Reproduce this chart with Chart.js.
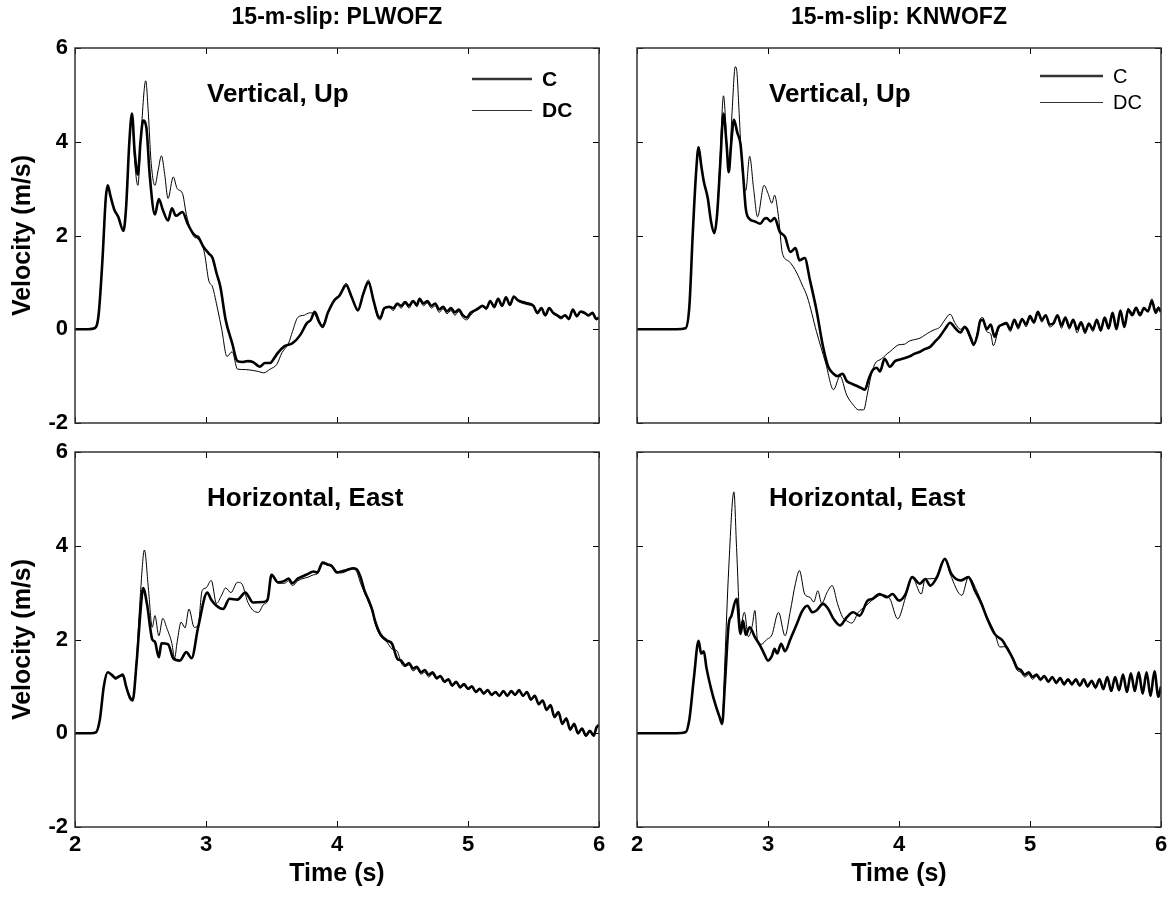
<!DOCTYPE html>
<html><head><meta charset="utf-8">
<script src="https://cdn.jsdelivr.net/npm/chart.js@4.4.1/dist/chart.umd.min.js"></script>
<style>
html,body{margin:0;padding:0;background:#fff;width:1175px;height:901px;overflow:hidden}
canvas{position:absolute}
</style></head><body>
<canvas id="c1" width="618" height="445" style="left:0;top:0"></canvas>
<canvas id="c2" width="557" height="445" style="left:618px;top:0"></canvas>
<canvas id="c3" width="618" height="471" style="left:0;top:430px"></canvas>
<canvas id="c4" width="557" height="471" style="left:618px;top:430px"></canvas>
<script>
// ---- tick labels / texts ----
const timeTicks = [2, 3, 4, 5, 6];
const velocityTicks = [-2, 0, 2, 4, 6];
const panelTitles = ['15-m-slip: PLWOFZ', '15-m-slip: KNWOFZ'];
const componentLabels = ['Vertical, Up', 'Horizontal, East'];
const seriesNames = ['C', 'DC'];

// ---- series: [time (s), velocity (m/s)] ----
const plwVertC = [[2.00,0],[2.10,0],[2.15,0.02],[2.18,0.3],[2.21,1.5],[2.235,2.8],[2.25,3.07],[2.27,2.85],[2.30,2.55],[2.33,2.4],[2.37,2.1],[2.39,2.6],[2.415,4.0],[2.435,4.6],[2.455,3.8],[2.48,3.3],[2.50,4.0],[2.52,4.45],[2.545,4.3],[2.57,3.3],[2.61,2.45],[2.64,2.78],[2.67,2.55],[2.71,2.32],[2.74,2.58],[2.77,2.42],[2.82,2.5],[2.86,2.25],[2.90,2.05],[2.95,1.92],[2.98,1.76],[3.02,1.62],[3.05,1.52],[3.08,1.2],[3.11,0.9],[3.15,0.2],[3.20,-0.3],[3.24,-0.68],[3.28,-0.7],[3.32,-0.68],[3.36,-0.7],[3.41,-0.8],[3.45,-0.72],[3.49,-0.72],[3.51,-0.66],[3.55,-0.5],[3.60,-0.36],[3.66,-0.3],[3.72,-0.12],[3.77,0.13],[3.80,0.2],[3.83,0.37],[3.865,0.15],[3.89,0.05],[3.93,0.35],[3.98,0.62],[4.02,0.72],[4.07,0.94],[4.11,0.7],[4.16,0.41],[4.20,0.75],[4.24,1.0],[4.28,0.6],[4.31,0.3],[4.33,0.24],[4.36,0.45],[4.40,0.48],[4.43,0.45],[4.46,0.55],[4.49,0.5],[4.52,0.58],[4.55,0.5],[4.58,0.6],[4.61,0.52],[4.63,0.65],[4.66,0.55],[4.69,0.6],[4.72,0.5],[4.75,0.55],[4.78,0.42],[4.81,0.48],[4.84,0.38],[4.87,0.45],[4.90,0.36],[4.93,0.42],[4.96,0.3],[4.99,0.25],[5.02,0.35],[5.05,0.4],[5.08,0.45],[5.11,0.5],[5.14,0.45],[5.17,0.6],[5.20,0.48],[5.23,0.65],[5.26,0.5],[5.29,0.68],[5.32,0.52],[5.35,0.7],[5.38,0.62],[5.42,0.58],[5.46,0.55],[5.50,0.5],[5.53,0.35],[5.56,0.45],[5.59,0.3],[5.62,0.45],[5.65,0.35],[5.68,0.3],[5.71,0.25],[5.74,0.3],[5.77,0.22],[5.80,0.42],[5.83,0.28],[5.86,0.38],[5.89,0.35],[5.92,0.3],[5.95,0.35],[5.98,0.22],[6.0,0.25]];
const plwVertDC = [[2.00,0],[2.10,0],[2.15,0.02],[2.18,0.3],[2.21,1.5],[2.235,2.8],[2.25,3.05],[2.27,2.85],[2.30,2.55],[2.33,2.4],[2.37,2.1],[2.39,2.6],[2.415,4.0],[2.435,4.55],[2.455,3.6],[2.48,3.07],[2.505,4.2],[2.54,5.3],[2.56,4.6],[2.58,3.6],[2.61,3.07],[2.635,3.4],[2.66,3.7],[2.685,3.3],[2.71,2.79],[2.75,3.25],[2.78,3.0],[2.82,2.9],[2.85,2.45],[2.88,2.15],[2.92,1.95],[2.94,2.0],[2.965,1.85],[2.99,1.6],[3.02,1.05],[3.05,0.9],[3.09,0.41],[3.12,0.0],[3.16,-0.58],[3.20,-0.48],[3.24,-0.85],[3.30,-0.86],[3.36,-0.88],[3.40,-0.9],[3.44,-0.93],[3.49,-0.85],[3.54,-0.75],[3.58,-0.5],[3.63,-0.3],[3.66,-0.05],[3.70,0.25],[3.75,0.3],[3.79,0.35],[3.83,0.32],[3.865,0.12],[3.89,0.1],[3.93,0.35],[3.98,0.62],[4.02,0.75],[4.07,0.98],[4.11,0.72],[4.16,0.38],[4.20,0.78],[4.24,1.05],[4.28,0.6],[4.31,0.25],[4.33,0.2],[4.36,0.42],[4.40,0.46],[4.43,0.4],[4.46,0.52],[4.49,0.45],[4.52,0.55],[4.55,0.45],[4.58,0.58],[4.61,0.48],[4.63,0.62],[4.66,0.5],[4.69,0.56],[4.72,0.45],[4.75,0.5],[4.78,0.36],[4.81,0.44],[4.84,0.33],[4.87,0.4],[4.90,0.3],[4.93,0.38],[4.96,0.25],[4.99,0.2],[5.02,0.3],[5.05,0.38],[5.08,0.42],[5.11,0.48],[5.14,0.42],[5.17,0.58],[5.20,0.45],[5.23,0.62],[5.26,0.48],[5.29,0.66],[5.32,0.5],[5.35,0.68],[5.38,0.6],[5.42,0.55],[5.46,0.52],[5.50,0.48],[5.53,0.33],[5.56,0.43],[5.59,0.28],[5.62,0.42],[5.65,0.33],[5.68,0.28],[5.71,0.22],[5.74,0.28],[5.77,0.2],[5.80,0.4],[5.83,0.26],[5.86,0.36],[5.89,0.33],[5.92,0.28],[5.95,0.33],[5.98,0.2],[6.0,0.23]];

const knwVertC = [[2.00,0],[2.30,0],[2.37,0.02],[2.40,0.5],[2.425,2.0],[2.45,3.3],[2.47,3.88],[2.49,3.5],[2.51,3.15],[2.54,2.8],[2.565,2.3],[2.59,2.05],[2.61,2.4],[2.635,3.5],[2.66,4.6],[2.685,3.9],[2.70,3.35],[2.72,4.0],[2.74,4.47],[2.765,4.2],[2.79,3.95],[2.81,3.3],[2.83,2.58],[2.86,2.35],[2.90,2.3],[2.94,2.25],[2.97,2.35],[2.99,2.37],[3.02,2.3],[3.05,2.37],[3.09,2.08],[3.13,1.97],[3.17,1.65],[3.21,1.73],[3.24,1.47],[3.28,1.52],[3.32,1.05],[3.37,0.41],[3.42,-0.37],[3.46,-0.8],[3.50,-0.95],[3.53,-1.0],[3.57,-0.95],[3.60,-1.1],[3.63,-1.15],[3.67,-1.2],[3.71,-1.25],[3.74,-1.29],[3.77,-1.05],[3.80,-0.87],[3.83,-0.82],[3.855,-0.9],[3.89,-0.63],[3.93,-0.8],[3.97,-0.68],[4.00,-0.65],[4.04,-0.62],[4.08,-0.58],[4.12,-0.52],[4.16,-0.48],[4.20,-0.42],[4.24,-0.37],[4.28,-0.25],[4.31,-0.16],[4.35,0.0],[4.39,0.14],[4.43,0.02],[4.47,-0.07],[4.50,0.05],[4.52,0.0],[4.55,-0.2],[4.57,-0.33],[4.60,-0.1],[4.62,0.18],[4.64,0.2],[4.67,0.0],[4.70,0.1],[4.73,-0.16],[4.76,0.05],[4.79,0.1],[4.82,0.13],[4.85,0.0],[4.88,0.2],[4.91,0.05],[4.94,0.22],[4.97,0.1],[5.00,0.28],[5.03,0.15],[5.06,0.37],[5.09,0.2],[5.12,0.3],[5.15,0.1],[5.18,0.13],[5.21,0.3],[5.24,0.08],[5.27,0.25],[5.30,0.05],[5.33,0.2],[5.36,0.0],[5.39,0.15],[5.42,-0.05],[5.45,0.12],[5.48,0.0],[5.51,0.2],[5.54,-0.02],[5.57,0.25],[5.60,0.02],[5.63,0.35],[5.66,0.0],[5.69,0.4],[5.72,0.05],[5.75,0.42],[5.78,0.3],[5.81,0.45],[5.84,0.3],[5.87,0.45],[5.90,0.38],[5.93,0.6],[5.96,0.35],[5.98,0.45],[6.0,0.37]];
const knwVertDC = [[2.00,0],[2.30,0],[2.37,0.02],[2.40,0.5],[2.425,2.0],[2.45,3.3],[2.47,3.9],[2.49,3.5],[2.51,3.15],[2.54,2.8],[2.565,2.3],[2.59,2.05],[2.61,2.4],[2.635,3.7],[2.66,4.98],[2.685,4.0],[2.70,3.35],[2.725,4.6],[2.75,5.6],[2.76,5.55],[2.78,4.6],[2.80,3.53],[2.83,2.96],[2.86,3.69],[2.89,3.0],[2.92,2.4],[2.97,3.07],[3.00,2.9],[3.03,2.69],[3.05,2.86],[3.08,2.4],[3.11,1.62],[3.16,1.45],[3.22,1.2],[3.26,0.95],[3.30,0.69],[3.37,-0.05],[3.44,-0.72],[3.50,-1.29],[3.55,-1.0],[3.60,-1.4],[3.65,-1.61],[3.69,-1.72],[3.73,-1.72],[3.76,-1.36],[3.79,-0.95],[3.82,-0.72],[3.855,-0.65],[3.88,-0.6],[3.91,-0.52],[3.93,-0.48],[3.97,-0.38],[4.00,-0.33],[4.04,-0.32],[4.08,-0.25],[4.12,-0.22],[4.16,-0.19],[4.20,-0.12],[4.24,-0.05],[4.28,0.0],[4.31,0.04],[4.35,0.2],[4.39,0.32],[4.43,0.12],[4.47,0.0],[4.50,0.05],[4.52,-0.05],[4.55,-0.25],[4.57,-0.35],[4.60,-0.05],[4.62,0.22],[4.64,0.25],[4.67,-0.05],[4.70,-0.1],[4.72,-0.35],[4.76,0.0],[4.79,0.12],[4.82,0.1],[4.85,-0.05],[4.88,0.18],[4.91,0.0],[4.94,0.2],[4.97,0.05],[5.00,0.25],[5.03,0.12],[5.06,0.35],[5.09,0.15],[5.12,0.28],[5.15,0.05],[5.18,0.1],[5.21,0.28],[5.24,0.02],[5.27,0.22],[5.30,0.0],[5.33,0.18],[5.36,-0.08],[5.39,0.12],[5.42,-0.1],[5.45,0.1],[5.48,-0.05],[5.51,0.18],[5.54,-0.05],[5.57,0.22],[5.60,0.0],[5.63,0.32],[5.66,0.0],[5.69,0.38],[5.72,0.1],[5.75,0.45],[5.78,0.35],[5.81,0.48],[5.84,0.35],[5.87,0.42],[5.90,0.4],[5.93,0.65],[5.96,0.4],[5.98,0.48],[6.0,0.4]];

const plwEastC = [[2.00,0],[2.12,0],[2.16,0.02],[2.19,0.3],[2.22,1.0],[2.25,1.3],[2.28,1.25],[2.31,1.18],[2.34,1.22],[2.365,1.25],[2.39,1.0],[2.42,0.75],[2.44,0.7],[2.47,1.5],[2.50,2.6],[2.52,3.1],[2.55,2.75],[2.59,2.0],[2.61,1.95],[2.64,1.62],[2.66,1.92],[2.71,1.9],[2.75,1.6],[2.80,1.55],[2.85,1.73],[2.89,1.6],[2.94,2.26],[3.01,3.0],[3.04,2.85],[3.08,2.72],[3.13,2.65],[3.18,2.87],[3.24,2.85],[3.30,3.0],[3.36,2.79],[3.44,2.8],[3.47,2.85],[3.50,3.38],[3.55,3.22],[3.60,3.25],[3.63,3.3],[3.66,3.2],[3.70,3.3],[3.74,3.35],[3.78,3.4],[3.82,3.45],[3.85,3.43],[3.89,3.64],[3.93,3.6],[3.96,3.57],[4.00,3.43],[4.03,3.45],[4.06,3.47],[4.09,3.5],[4.12,3.52],[4.15,3.5],[4.18,3.33],[4.21,3.04],[4.24,2.85],[4.27,2.62],[4.29,2.4],[4.33,2.12],[4.38,1.98],[4.42,1.91],[4.46,1.59],[4.49,1.55],[4.52,1.45],[4.55,1.5],[4.58,1.38],[4.61,1.42],[4.64,1.3],[4.67,1.35],[4.70,1.25],[4.73,1.3],[4.76,1.18],[4.79,1.22],[4.82,1.1],[4.85,1.15],[4.88,1.02],[4.91,1.1],[4.94,0.98],[4.97,1.05],[5.00,0.95],[5.03,1.0],[5.06,0.88],[5.09,0.95],[5.12,0.85],[5.15,0.92],[5.18,0.82],[5.21,0.88],[5.24,0.8],[5.27,0.9],[5.30,0.8],[5.33,0.9],[5.36,0.82],[5.39,0.92],[5.42,0.8],[5.45,0.88],[5.48,0.72],[5.51,0.8],[5.54,0.62],[5.57,0.7],[5.60,0.5],[5.63,0.6],[5.66,0.35],[5.69,0.45],[5.72,0.2],[5.75,0.32],[5.78,0.08],[5.81,0.2],[5.84,0.0],[5.87,0.1],[5.90,-0.05],[5.93,0.05],[5.96,-0.05],[5.98,0.12],[6.0,0.18]];
const plwEastDC = [[2.00,0],[2.12,0],[2.16,0.02],[2.19,0.3],[2.22,1.0],[2.25,1.3],[2.28,1.22],[2.31,1.15],[2.34,1.2],[2.365,1.22],[2.39,1.0],[2.42,0.8],[2.44,0.72],[2.47,1.6],[2.50,3.0],[2.53,3.91],[2.56,3.1],[2.59,2.26],[2.61,2.51],[2.64,2.08],[2.67,2.45],[2.70,2.25],[2.74,1.91],[2.76,1.6],[2.78,1.95],[2.81,2.37],[2.84,2.25],[2.87,2.65],[2.91,2.26],[2.94,2.3],[2.97,3.04],[3.00,3.1],[3.04,3.26],[3.08,2.77],[3.12,2.95],[3.15,3.1],[3.19,3.0],[3.24,3.22],[3.27,3.2],[3.32,2.79],[3.36,2.62],[3.40,2.58],[3.44,2.75],[3.47,2.82],[3.50,3.35],[3.55,3.2],[3.60,3.2],[3.63,3.25],[3.66,3.15],[3.70,3.25],[3.74,3.3],[3.78,3.33],[3.82,3.38],[3.85,3.4],[3.89,3.62],[3.93,3.58],[3.96,3.55],[4.00,3.45],[4.03,3.42],[4.06,3.44],[4.09,3.48],[4.12,3.5],[4.15,3.45],[4.18,3.2],[4.21,3.0],[4.24,2.8],[4.27,2.58],[4.29,2.35],[4.33,2.08],[4.38,1.95],[4.42,1.8],[4.46,1.75],[4.49,1.5],[4.52,1.42],[4.55,1.46],[4.58,1.33],[4.61,1.38],[4.64,1.26],[4.67,1.3],[4.70,1.2],[4.73,1.26],[4.76,1.15],[4.79,1.2],[4.82,1.08],[4.85,1.13],[4.88,1.0],[4.91,1.08],[4.94,0.96],[4.97,1.02],[5.00,0.93],[5.03,0.98],[5.06,0.86],[5.09,0.93],[5.12,0.83],[5.15,0.9],[5.18,0.8],[5.21,0.86],[5.24,0.78],[5.27,0.88],[5.30,0.78],[5.33,0.88],[5.36,0.8],[5.39,0.9],[5.42,0.78],[5.45,0.86],[5.48,0.7],[5.51,0.78],[5.54,0.6],[5.57,0.68],[5.60,0.48],[5.63,0.58],[5.66,0.33],[5.69,0.43],[5.72,0.18],[5.75,0.3],[5.78,0.06],[5.81,0.18],[5.84,-0.02],[5.87,0.08],[5.90,-0.07],[5.93,0.03],[5.96,-0.06],[5.98,0.1],[6.0,0.16]];

const knwEastC = [[2.00,0],[2.30,0],[2.37,0.02],[2.40,0.3],[2.435,1.2],[2.47,1.97],[2.49,1.7],[2.51,1.75],[2.53,1.4],[2.57,0.9],[2.60,0.6],[2.63,0.35],[2.65,0.2],[2.67,1.0],[2.70,2.33],[2.72,2.5],[2.76,2.87],[2.79,2.12],[2.81,2.4],[2.83,2.1],[2.86,2.26],[2.90,2.05],[2.94,1.87],[2.97,1.7],[3.00,1.55],[3.03,1.65],[3.05,1.8],[3.07,1.7],[3.10,1.91],[3.13,1.75],[3.17,2.0],[3.22,2.33],[3.26,2.6],[3.30,2.72],[3.34,2.58],[3.37,2.62],[3.42,2.76],[3.46,2.65],[3.50,2.44],[3.55,2.3],[3.60,2.47],[3.65,2.58],[3.70,2.51],[3.76,2.83],[3.80,2.87],[3.85,2.97],[3.91,2.9],[3.95,2.97],[4.00,2.83],[4.05,2.97],[4.10,3.33],[4.16,3.19],[4.20,3.29],[4.24,3.15],[4.29,3.33],[4.35,3.72],[4.40,3.4],[4.47,3.26],[4.53,3.33],[4.58,3.04],[4.63,2.76],[4.67,2.47],[4.73,2.12],[4.79,1.98],[4.82,1.84],[4.87,1.59],[4.90,1.4],[4.93,1.35],[4.96,1.25],[4.99,1.3],[5.02,1.2],[5.05,1.25],[5.08,1.15],[5.11,1.22],[5.14,1.1],[5.17,1.2],[5.20,1.08],[5.23,1.18],[5.26,1.05],[5.29,1.15],[5.32,1.05],[5.35,1.15],[5.38,1.02],[5.41,1.15],[5.44,1.0],[5.47,1.12],[5.50,0.98],[5.53,1.15],[5.56,0.95],[5.59,1.2],[5.62,0.9],[5.65,1.2],[5.68,0.92],[5.71,1.25],[5.74,0.88],[5.77,1.28],[5.80,0.9],[5.83,1.3],[5.86,0.85],[5.89,1.3],[5.92,0.8],[5.95,1.32],[5.98,0.78],[6.0,1.0]];
const knwEastDC = [[2.00,0],[2.30,0],[2.37,0.02],[2.40,0.3],[2.435,1.2],[2.47,1.95],[2.49,1.7],[2.51,1.72],[2.53,1.4],[2.57,0.9],[2.60,0.6],[2.63,0.35],[2.65,0.22],[2.67,1.5],[2.70,3.5],[2.74,5.15],[2.76,3.96],[2.79,2.3],[2.82,2.58],[2.85,2.06],[2.88,2.3],[2.90,2.62],[2.92,1.98],[2.95,1.9],[2.99,2.0],[3.03,2.1],[3.08,2.58],[3.13,2.08],[3.17,2.6],[3.21,3.2],[3.24,3.47],[3.28,2.97],[3.32,2.9],[3.35,2.8],[3.38,3.04],[3.41,2.77],[3.45,3.0],[3.49,3.15],[3.53,2.77],[3.57,2.47],[3.60,2.4],[3.64,2.35],[3.69,2.58],[3.74,2.7],[3.80,2.85],[3.87,2.95],[3.93,2.87],[3.99,2.44],[4.05,2.9],[4.10,3.33],[4.17,2.97],[4.20,3.29],[4.27,3.3],[4.35,3.72],[4.39,3.4],[4.48,2.94],[4.53,3.33],[4.60,3.0],[4.67,2.5],[4.73,2.15],[4.77,1.84],[4.82,1.85],[4.87,1.55],[4.90,1.35],[4.93,1.3],[4.96,1.2],[4.99,1.25],[5.02,1.15],[5.05,1.22],[5.08,1.12],[5.11,1.2],[5.14,1.08],[5.17,1.18],[5.20,1.05],[5.23,1.15],[5.26,1.02],[5.29,1.12],[5.32,1.02],[5.35,1.12],[5.38,1.0],[5.41,1.12],[5.44,0.98],[5.47,1.1],[5.50,0.95],[5.53,1.12],[5.56,0.92],[5.59,1.18],[5.62,0.88],[5.65,1.18],[5.68,0.9],[5.71,1.22],[5.74,0.86],[5.77,1.25],[5.80,0.88],[5.83,1.28],[5.86,0.83],[5.89,1.28],[5.92,0.78],[5.95,1.3],[5.98,0.76],[6.0,0.98]];

// ---- rendering ----
const FONT = '"Liberation Sans", Arial, Helvetica, sans-serif';
const toXY = arr => arr.map(p => ({x: p[0], y: p[1]}));

function panelPlugin(cfg) {
  return {
    id: 'panelDecor',
    afterDraw(chart) {
      const {ctx, chartArea: a, scales: {x, y}} = chart;
      ctx.save();
      ctx.strokeStyle = '#000';
      ctx.lineWidth = 1;
      x.ticks.forEach(t => {
        const px = Math.round(x.getPixelForValue(t.value)) + 0.5;
        ctx.beginPath();
        ctx.moveTo(px, a.bottom); ctx.lineTo(px, a.bottom - 6);
        ctx.moveTo(px, a.top); ctx.lineTo(px, a.top + 6);
        ctx.stroke();
      });
      y.ticks.forEach(t => {
        const py = Math.round(y.getPixelForValue(t.value)) + 0.5;
        ctx.beginPath();
        ctx.moveTo(a.left, py); ctx.lineTo(a.left + 6, py);
        ctx.moveTo(a.right, py); ctx.lineTo(a.right - 6, py);
        ctx.stroke();
      });
      ctx.lineWidth = 1.5;
      ctx.strokeStyle = '#333';
      ctx.strokeRect(a.left, a.top, a.right - a.left, a.bottom - a.top);

      ctx.fillStyle = '#000';
      ctx.textBaseline = 'middle';
      ctx.textAlign = 'left';
      ctx.font = 'bold 26px ' + FONT;
      ctx.fillText(cfg.label, a.left + 132, a.top + 47);

      if (cfg.title) {
        ctx.font = 'bold 23px ' + FONT;
        ctx.textAlign = 'center';
        ctx.fillText(cfg.title, (a.left + a.right) / 2, 18);
      }
      if (cfg.legend) {
        const L = cfg.legend;
        ctx.textAlign = 'left';
        ctx.font = L.font;
        ctx.lineWidth = 2.5;
        ctx.beginPath(); ctx.moveTo(a.left + L.x0, a.top + L.y1); ctx.lineTo(a.left + L.x1, a.top + L.y1); ctx.stroke();
        ctx.lineWidth = 1;
        ctx.beginPath(); ctx.moveTo(a.left + L.x0, a.top + L.y2 + 0.5); ctx.lineTo(a.left + L.x1, a.top + L.y2 + 0.5); ctx.stroke();
        ctx.fillText(seriesNames[0], a.left + L.tx, a.top + L.y1 + 1);
        ctx.fillText(seriesNames[1], a.left + L.tx, a.top + L.y2 + 1);
      }
      ctx.restore();
    }
  };
}

function makePanel(id, c, dc, opt) {
  const tickFont = {family: FONT, size: 22, weight: 'bold'};
  const titleFont = {family: FONT, size: 25, weight: 'bold'};
  new Chart(document.getElementById(id), {
    type: 'line',
    data: {
      datasets: [
        {label: seriesNames[0], data: toXY(c), borderColor: '#000', borderWidth: 2.6, pointRadius: 0, cubicInterpolationMode: 'monotone', fill: false},
        {label: seriesNames[1], data: toXY(dc), borderColor: '#000', borderWidth: 1, pointRadius: 0, cubicInterpolationMode: 'monotone', fill: false}
      ]
    },
    options: {
      responsive: false, animation: false, devicePixelRatio: 1,
      events: [],
      layout: {padding: opt.padding},
      plugins: {legend: {display: false}, tooltip: {enabled: false}},
      scales: {
        x: {
          type: 'linear', min: 2, max: 6,
          afterBuildTicks: s => { s.ticks = timeTicks.map(v => ({value: v})); },
          ticks: {display: opt.bottom, font: tickFont, color: '#000', padding: 5},
          grid: {display: false, drawTicks: false},
          border: {display: false},
          title: {display: opt.bottom, text: 'Time (s)', font: titleFont, color: '#000', padding: {top: 0, bottom: 12}},
          afterFit: s => { s.height = opt.xh; }
        },
        y: {
          type: 'linear', min: -2, max: 6,
          afterBuildTicks: s => { s.ticks = velocityTicks.map(v => ({value: v})); },
          ticks: {display: opt.left, font: tickFont, color: '#000', padding: 7},
          grid: {display: false, drawTicks: false},
          border: {display: false},
          title: {display: opt.left, text: 'Velocity (m/s)', font: titleFont, color: '#000', padding: {top: 8, bottom: 0}},
          afterFit: s => { s.width = opt.yw; }
        }
      }
    },
    plugins: [panelPlugin(opt)]
  });
}

const legendBold = {x0: 397, x1: 457, tx: 467, y1: 31, y2: 62, font: 'bold 21px ' + FONT};
const legendPlain = {x0: 403, x1: 466, tx: 476, y1: 28, y2: 54, font: '20px ' + FONT};

makePanel('c1', plwVertC, plwVertDC, {padding: {top: 48, right: 19, left: 0, bottom: 0}, xh: 22, yw: 75, left: true, bottom: false, label: componentLabels[0], title: panelTitles[0], legend: legendBold});
makePanel('c2', knwVertC, knwVertDC, {padding: {top: 48, right: 14, left: 0, bottom: 0}, xh: 22, yw: 19, left: false, bottom: false, label: componentLabels[0], title: panelTitles[1], legend: legendPlain});
makePanel('c3', plwEastC, plwEastDC, {padding: {top: 22, right: 19, left: 0, bottom: 0}, xh: 74, yw: 75, left: true, bottom: true, label: componentLabels[1]});
makePanel('c4', knwEastC, knwEastDC, {padding: {top: 22, right: 14, left: 0, bottom: 0}, xh: 74, yw: 19, left: false, bottom: true, label: componentLabels[1]});
</script>
</body></html>
